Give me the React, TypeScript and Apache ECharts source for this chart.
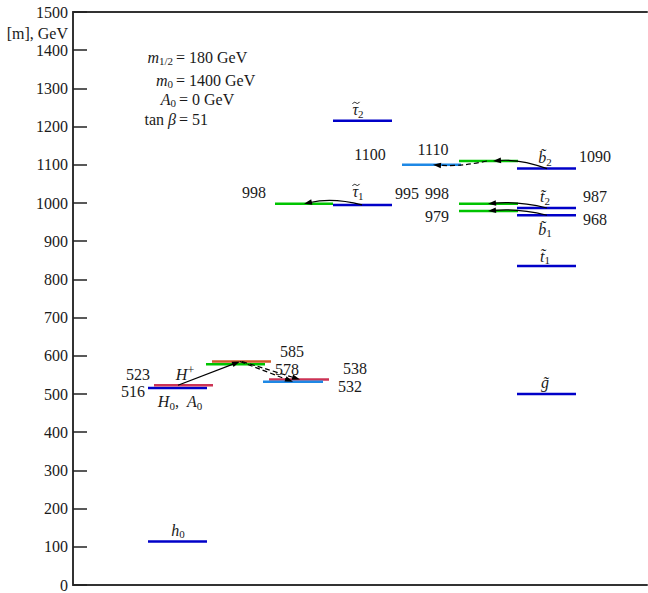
import React, { useEffect, useRef } from "react";
import * as echarts from "echarts";

const FONT = "Liberation Serif";
const INK = "#1a1a1a";

// ---------------- data ----------------
// mass levels, GeV
const levelKeys = ["h0", "H0A0", "Hplus", "n585", "n578", "n538", "n532", "tau2", "tau1", "n998a", "n1100", "n1110", "b2", "n998b", "n979", "t2", "b1", "t1", "gl"];
const levelMasses = [114, 516, 523, 585, 578, 538, 532, 1215, 995, 998, 1100, 1110, 1090, 998, 979, 987, 968, 835, 500];

// text labels and the level mass each one belongs to
const labelTexts = [
  "{i|h}{s|0}", "{n|523}", "{n|516}", "{i|H}{p|+}", "{i|H}{s|0}{n|,  }{i|A}{s|0}",
  "{n|585}", "{n|578}", "{n|538}", "{n|532}", "{n|998}",
  "{i|τ}{s|2}", "{i|τ}{s|1}", "{n|1100}", "{n|995}", "{n|998}", "{n|1110}", "{n|979}",
  "{i|b̃}{s|2}", "{n|1090}", "{i|t̃}{s|2}", "{n|987}", "{i|b̃}{s|1}", "{n|968}", "{i|t̃}{s|1}", "{i|g̃}",
];
const labelLevels = [
  "h0", "Hplus", "H0A0", "Hplus", "H0A0",
  "n585", "n578", "n538", "n532", "n998a",
  "tau2", "tau1", "n1100", "tau1", "n998b", "n1110", "n979",
  "b2", "b2", "t2", "t2", "b1", "b1", "t1", "gl",
];

// decay arrows (from level -> to level)
const arrowFrom = ["Hplus", "n585", "n585", "tau1", "b2", "n1110", "t2", "b1"];
const arrowTo = ["n585", "n532", "n538", "n998a", "n1110", "n1100", "n998b", "n979"];

// parameter block
const paramNames = ["{i|m}{s|1/2}", "{i|m}{s|0}", "{i|A}{s|0}", "{n|tan }{i|β}"];
const paramValues = ["= 180 GeV", "= 1400 GeV", "= 0 GeV", "= 51"];

// ---------------- layout (positions / styles) ----------------
const levelX0 = [75, 75, 81, 139, 133, 196, 190, 260, 260, 202, 329, 386, 444, 386, 386, 444, 444, 444, 444];
const levelX1 = [134, 134, 140, 198, 192, 256, 250, 319, 319, 260, 388, 445, 503, 445, 445, 503, 503, 503, 503];
const levelColorKey = ["blue", "blue", "red", "orange", "green", "red", "light", "blue", "blue", "green", "light", "green", "blue", "green", "green", "blue", "blue", "blue", "blue"];
const COLORS: Record<string, string> = {
  blue: "#0000c8",
  green: "#00c400",
  red: "#cc3355",
  orange: "#d0582a",
  light: "#1e88e5",
};

const labelX = [105, 77, 72, 112, 107, 207, 202, 270, 265, 181, 285, 285, 297, 334, 364, 360, 364, 472, 522, 472, 522, 472, 522, 472, 472];
const labelDy = [-11, -11, 4, -11, 14, -10, 5, -11, 5, -11, -11, -13, -10, -11, -10, -11, 5, -11, -12, -11, -11, 14, 4, -10, -12];
const labelAlign = ["center", "right", "right", "center", "center", "left", "left", "left", "left", "center", "center", "center", "center", "center", "center", "center", "center", "center", "center", "center", "center", "center", "center", "center", "center"];
// manual tilde accent (for tau labels): x offset of the accent relative to label anchor, null = none
const labelTildeDx: (number | null)[] = [null, null, null, null, null, null, null, null, null, null, -2, -2, null, null, null, null, null, null, null, null, null, null, null, null, null];

const arrowX0 = [105, 167, 169, 289, 474, 414, 474, 474];
const arrowX1 = [167, 220, 227, 231, 420, 360, 415, 415];
const arrowBend = [0, 0, 0, 7, 6, -4, 5, 5];
const arrowDash = [false, true, true, false, false, true, false, false];

const paramY = [57, 80, 99, 119];
const paramSplit = [176, 176, 179, 179];

const RICH = {
  n: { fontSize: 16, fontFamily: FONT, color: INK },
  i: { fontSize: 16, fontFamily: FONT, fontStyle: "italic", color: INK },
  s: { fontSize: 11, fontFamily: FONT, color: INK, padding: [8, 0, 0, 0] },
  p: { fontSize: 12, fontFamily: FONT, color: INK, padding: [0, 0, 9, 0] },
};

const massOf = (k: string) => levelMasses[levelKeys.indexOf(k)];

export default function App() {
  const ref = useRef<HTMLDivElement>(null);

  useEffect(() => {
    if (!ref.current) return;
    const chart = echarts.init(ref.current, undefined, { renderer: "svg" });

    const levelData = levelKeys.map((_, i) => [levelX0[i], levelMasses[i], levelX1[i], i]);
    const labelData = labelTexts.map((_, i) => [labelX[i], massOf(labelLevels[i]), i]);
    const arrowData = arrowFrom.map((f, i) => [arrowX0[i], massOf(f), arrowX1[i], massOf(arrowTo[i]), i]);

    const axisLine = { show: true, onZero: false, lineStyle: { color: "#333", width: 2 } };

    const graphic: any[] = [
      {
        type: "text",
        x: 68,
        y: 33,
        style: { text: "[m], GeV", fontSize: 16, fontFamily: FONT, fill: INK, align: "right", verticalAlign: "middle" },
      },
    ];
    paramNames.forEach((nm, i) => {
      graphic.push({
        type: "text",
        x: paramSplit[i] - 3,
        y: paramY[i],
        style: { text: nm, rich: RICH, fontSize: 16, fontFamily: FONT, fill: INK, align: "right", verticalAlign: "middle" },
      });
      graphic.push({
        type: "text",
        x: paramSplit[i],
        y: paramY[i],
        style: { text: paramValues[i], fontSize: 16, fontFamily: FONT, fill: INK, align: "left", verticalAlign: "middle" },
      });
    });

    chart.setOption({
      animation: false,
      backgroundColor: "#ffffff",
      grid: { left: 73, right: 1, top: 12, bottom: 6, containLabel: false },
      xAxis: [
        { type: "value", min: 0, max: 574, position: "bottom", axisLine, axisTick: { show: false }, axisLabel: { show: false }, splitLine: { show: false } },
        { type: "value", min: 0, max: 574, position: "top", axisLine, axisTick: { show: false }, axisLabel: { show: false }, splitLine: { show: false } },
      ],
      yAxis: {
        type: "value",
        min: 0,
        max: 1500,
        interval: 100,
        axisLine,
        axisTick: { show: true, inside: true, length: 14, lineStyle: { color: "#222", width: 1.5 } },
        axisLabel: { margin: 5, fontFamily: FONT, fontSize: 16, color: INK, formatter: (v: number) => String(v) },
        splitLine: { show: false },
      },
      graphic,
      series: [
        {
          type: "custom",
          name: "levels",
          xAxisIndex: 0,
          data: levelData,
          encode: { x: [0, 2], y: 1 },
          silent: true,
          renderItem: (_p: any, api: any) => {
            const i = api.value(3);
            const a = api.coord([api.value(0), api.value(1)]);
            const b = api.coord([api.value(2), api.value(1)]);
            return {
              type: "line",
              shape: { x1: a[0], y1: a[1], x2: b[0], y2: b[1] },
              style: { stroke: COLORS[levelColorKey[i]], lineWidth: 2.5 },
            };
          },
        },
        {
          type: "custom",
          name: "arrows",
          xAxisIndex: 0,
          data: arrowData,
          encode: { x: [0, 2], y: [1, 3] },
          silent: true,
          z: 5,
          renderItem: (_p: any, api: any) => {
            const i = api.value(4);
            const p0 = api.coord([api.value(0), api.value(1)]);
            const p1 = api.coord([api.value(2), api.value(3)]);
            const cx = (p0[0] + p1[0]) / 2;
            const cy = (p0[1] + p1[1]) / 2 - arrowBend[i];
            let dx = p1[0] - cx;
            let dy = p1[1] - cy;
            const len = Math.hypot(dx, dy) || 1;
            dx /= len;
            dy /= len;
            const L = 8;
            const W = 2.8;
            const bx = p1[0] - dx * L;
            const by = p1[1] - dy * L;
            return {
              type: "group",
              children: [
                {
                  type: "bezierCurve",
                  shape: { x1: p0[0], y1: p0[1], x2: bx + dx * 2, y2: by + dy * 2, cpx1: cx, cpy1: cy },
                  style: { stroke: "#000", lineWidth: 1.2, fill: "none", lineDash: arrowDash[i] ? [5, 3] : null },
                },
                {
                  type: "polygon",
                  shape: { points: [[p1[0], p1[1]], [bx - dy * W, by + dx * W], [bx + dy * W, by - dx * W]] },
                  style: { fill: "#000" },
                },
              ],
            };
          },
        },
        {
          type: "custom",
          name: "labels",
          xAxisIndex: 0,
          data: labelData,
          encode: { x: 0, y: 1 },
          silent: true,
          z: 6,
          renderItem: (_p: any, api: any) => {
            const i = api.value(2);
            const p = api.coord([api.value(0), api.value(1)]);
            const ty = p[1] + labelDy[i];
            const children: any[] = [
              {
                type: "text",
                x: p[0],
                y: ty,
                style: {
                  text: labelTexts[i],
                  rich: RICH,
                  fontSize: 16,
                  fontFamily: FONT,
                  fill: INK,
                  align: labelAlign[i],
                  verticalAlign: "middle",
                },
              },
            ];
            const td = labelTildeDx[i];
            if (td !== null) {
              const cx = p[0] + td;
              const cy = ty - 7;
              children.push({
                type: "bezierCurve",
                shape: { x1: cx - 3.5, y1: cy + 1, x2: cx + 3.5, y2: cy - 1, cpx1: cx - 0.5, cpy1: cy - 3.5, cpx2: cx + 0.5, cpy2: cy + 3.5 },
                style: { stroke: INK, lineWidth: 1, fill: "none" },
              });
            }
            return { type: "group", children };
          },
        },
      ],
    });

    return () => chart.dispose();
  }, []);

  return (
    <div
      ref={ref}
      style={{ position: "fixed", left: 0, top: 0, width: 648, height: 593, background: "#fff" }}
    />
  );
}
